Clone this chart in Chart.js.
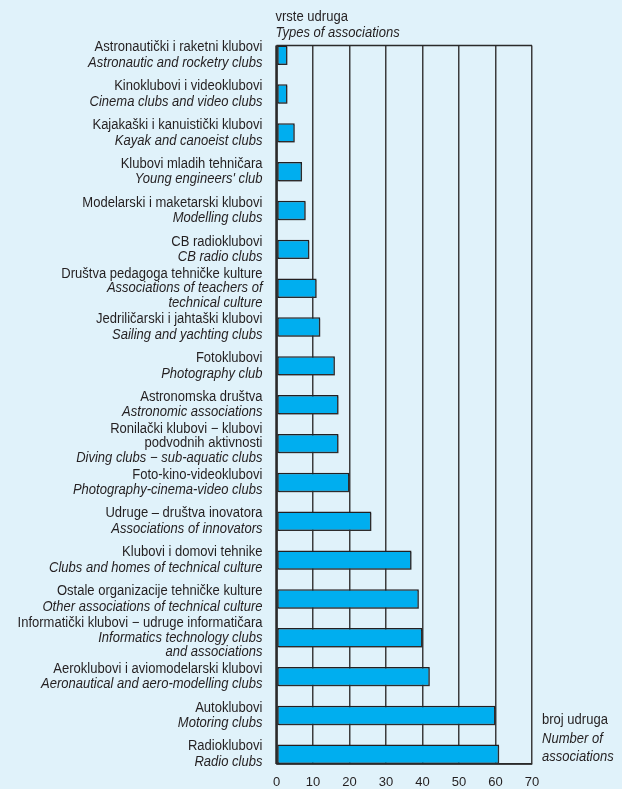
<!DOCTYPE html>
<html>
<head>
<meta charset="utf-8">
<script src="https://cdn.jsdelivr.net/npm/chart.js@4"></script>
<style>
html,body{margin:0;padding:0;background:#E0F2FA;}
#wrap{width:622px;height:789px;position:relative;}
</style>
</head>
<body>
<div id="wrap"><canvas id="c" width="622" height="789"></canvas></div>
<script>
// Croatian label lines (regular) per category
const labelsHr = [
  ["Astronautički i raketni klubovi"],
  ["Kinoklubovi i videoklubovi"],
  ["Kajakaški i kanuistički klubovi"],
  ["Klubovi mladih tehničara"],
  ["Modelarski i maketarski klubovi"],
  ["CB radioklubovi"],
  ["Društva pedagoga tehničke kulture"],
  ["Jedriličarski i jahtaški klubovi"],
  ["Fotoklubovi"],
  ["Astronomska društva"],
  ["Ronilački klubovi − klubovi", "podvodnih aktivnosti"],
  ["Foto-kino-videoklubovi"],
  ["Udruge – društva inovatora"],
  ["Klubovi i domovi tehnike"],
  ["Ostale organizacije tehničke kulture"],
  ["Informatički klubovi − udruge informatičara"],
  ["Aeroklubovi i aviomodelarski klubovi"],
  ["Autoklubovi"],
  ["Radioklubovi"]
];
// English label lines (italic) per category
const labelsEn = [
  ["Astronautic and rocketry clubs"],
  ["Cinema clubs and video clubs"],
  ["Kayak and canoeist clubs"],
  ["Young engineers' club"],
  ["Modelling clubs"],
  ["CB radio clubs"],
  ["Associations of teachers of", "technical culture"],
  ["Sailing and yachting clubs"],
  ["Photography club"],
  ["Astronomic associations"],
  ["Diving clubs − sub-aquatic clubs"],
  ["Photography-cinema-video clubs"],
  ["Associations of innovators"],
  ["Clubs and homes of technical culture"],
  ["Other associations of technical culture"],
  ["Informatics technology clubs", "and associations"],
  ["Aeronautical and aero-modelling clubs"],
  ["Motoring clubs"],
  ["Radio clubs"]
];
// Number of associations
const counts = [3, 3, 5, 7, 8, 9, 11, 12, 16, 17, 17, 20, 26, 37, 39, 40, 42, 60, 61];
const xTicks = [0, 10, 20, 30, 40, 50, 60, 70];
const yTitle = ["vrste udruga", "Types of associations"];
const xTitle = ["broj udruga", "Number of", "associations"];

const TXT = '#231F20';
const FONT = '"Liberation Sans", Arial, sans-serif';
const FS = 14;
const SX = 0.93; // slight horizontal condensing, like the original typeface

const bgPlugin = {
  id: 'bg',
  beforeDraw(chart) {
    const ctx = chart.ctx;
    ctx.save();
    ctx.fillStyle = '#E0F2FA';
    ctx.fillRect(0, 0, chart.width, chart.height);
    ctx.restore();
  }
};

const shadowPlugin = {
  id: 'barShadow',
  beforeDatasetsDraw(chart) {
    const ctx = chart.ctx;
    ctx.save();
    ctx.shadowColor = 'rgba(60,60,60,0.45)';
    ctx.shadowOffsetX = 1.5;
    ctx.shadowOffsetY = 1.5;
    ctx.shadowBlur = 0;
  },
  afterDatasetsDraw(chart) {
    chart.ctx.restore();
  }
};

function txt(ctx, s, x, y, italic, align) {
  ctx.save();
  ctx.font = (italic ? 'italic ' : '') + FS + 'px ' + FONT;
  ctx.textAlign = align;
  ctx.textBaseline = 'middle';
  ctx.translate(x, y);
  ctx.scale(SX, 1);
  ctx.fillText(s, 0, 0);
  ctx.restore();
}

const textPlugin = {
  id: 'texts',
  afterDraw(chart) {
    const ctx = chart.ctx;
    const ys = chart.scales.y;
    const area = chart.chartArea;
    ctx.save();
    // frame
    ctx.strokeStyle = '#2a2a2a';
    ctx.lineWidth = 1.5;
    ctx.beginPath();
    ctx.moveTo(area.left, area.top);
    ctx.lineTo(area.right, area.top);
    ctx.moveTo(area.left, area.bottom);
    ctx.lineTo(area.right, area.bottom);
    ctx.stroke();
    ctx.lineWidth = 2.5;
    ctx.beginPath();
    ctx.moveTo(area.left, area.top);
    ctx.lineTo(area.left, area.bottom);
    ctx.stroke();

    ctx.fillStyle = TXT;
    const xr = area.left - 14;
    for (let i = 0; i < counts.length; i++) {
      const lines = labelsHr[i].map(t => ({t, it: false})).concat(labelsEn[i].map(t => ({t, it: true})));
      const lh = lines.length > 2 ? 14.5 : 15.5;
      const cy = ys.getPixelForValue(i);
      const start = cy - (lines.length - 1) * lh / 2;
      lines.forEach((l, k) => txt(ctx, l.t, xr, start + k * lh, l.it, 'right'));
    }
    // axis titles
    txt(ctx, yTitle[0], area.left - 1, 17, false, 'left');
    txt(ctx, yTitle[1], area.left - 1, 33, true, 'left');
    const xl = area.right + 10;
    txt(ctx, xTitle[0], xl, 720, false, 'left');
    txt(ctx, xTitle[1], xl, 739, true, 'left');
    txt(ctx, xTitle[2], xl, 757, true, 'left');
    ctx.restore();
  }
};

new Chart(document.getElementById('c'), {
  type: 'bar',
  data: {
    datasets: [{
      data: counts.map((v, i) => ({x: v, y: i})),
      backgroundColor: '#00AEEF',
      borderColor: '#231F20',
      borderWidth: 1.5,
      borderSkipped: false,
      barPercentage: 0.5,
      categoryPercentage: 1.0
    }]
  },
  options: {
    indexAxis: 'y',
    responsive: false,
    animation: false,
    devicePixelRatio: 1,
    layout: { padding: { left: 276.5, right: 90, top: 45.5, bottom: 0 } },
    plugins: { legend: { display: false }, tooltip: { enabled: false } },
    scales: {
      y: {
        type: 'linear',
        reverse: true,
        min: -0.25,
        max: 18.25,
        offset: false,
        grid: { offset: false },
        display: false
      },
      x: {
        type: 'linear',
        min: 0,
        max: 70,
        afterBuildTicks: (s) => { s.ticks = xTicks.map(v => ({value: v})); },
        afterFit: (s) => { s.height = 25; },
        grid: { color: '#3c3c3c', lineWidth: 1.5, drawTicks: false },
        border: { display: true, color: '#2a2a2a', width: 1.5 },
        ticks: { color: TXT, font: { family: FONT, size: 13 }, padding: 11, maxRotation: 0 }
      }
    }
  },
  plugins: [bgPlugin, shadowPlugin, textPlugin]
});
</script>
</body>
</html>
